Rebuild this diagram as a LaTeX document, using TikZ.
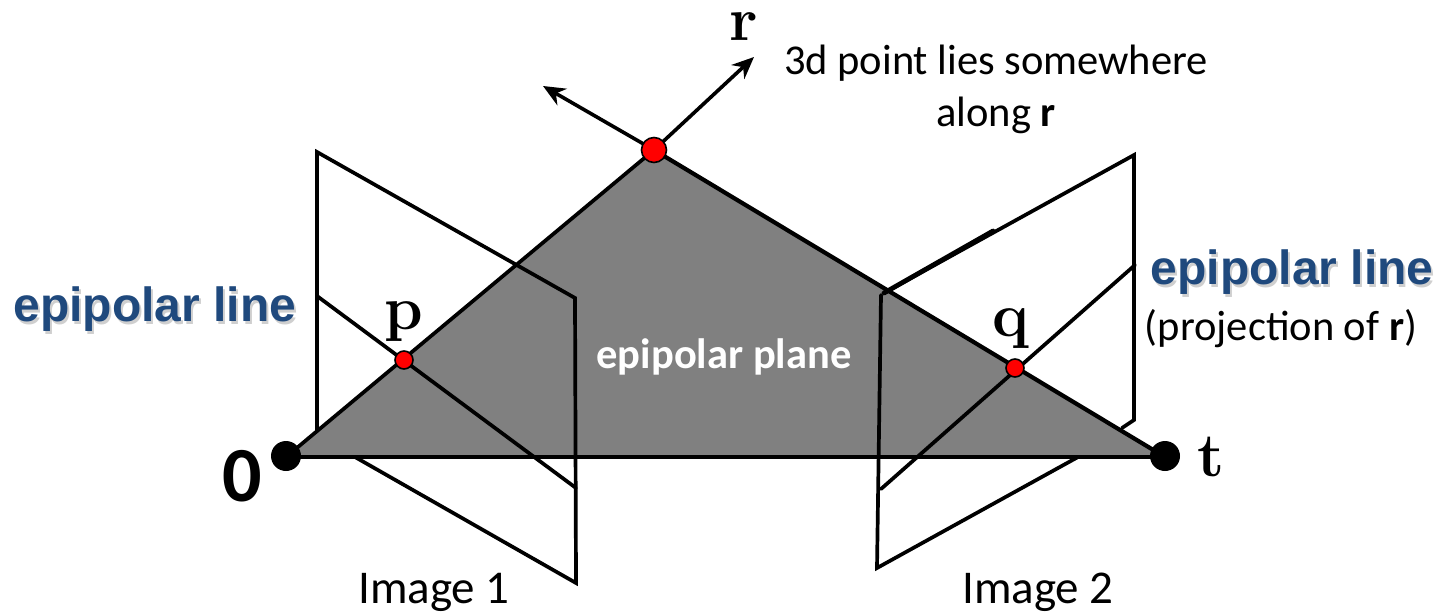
\documentclass[tikz,border=0pt]{standalone}
\usepackage{fontspec}
\usetikzlibrary{arrows.meta}
\newfontfamily\calib{Carlito}
\newfontfamily\arialb{Liberation Sans}[BoldFont={Liberation Sans Bold}]
\definecolor{epiblue}{HTML}{1F497D}
\definecolor{planegray}{HTML}{808080}
\definecolor{epishade}{HTML}{CFCFCF}
\newcommand{\shadowtext}[1]{\rlap{\hspace{2pt}\raisebox{-3pt}{\textcolor{epishade}{#1}}}#1}
\tikzset{
  wire/.style={draw=black,line width=3.7pt,line cap=round,line join=miter},
  thin wire/.style={draw=black,line width=3.2pt,line cap=round},
  ray/.style={draw=black,line width=3.6pt,-{Stealth[length=22pt,width=19pt]}},
  redpt/.style={circle,draw=black,fill=red,line width=1.6pt,inner sep=0pt,minimum size=#1},
  blackpt/.style={circle,fill=black,inner sep=0pt,minimum size=30pt},
  lbl/.style={font=\calib\fontsize{42.5}{52}\selectfont,text=black,inner sep=0pt,align=center},
  imglbl/.style={font=\calib\fontsize{47}{52}\selectfont,text=black,inner sep=0pt},
  mathlbl/.style={font=\bfseries\fontsize{62}{66}\selectfont,text=black,inner sep=0pt},
  epi/.style={font=\arialb\bfseries\fontsize{48}{52}\selectfont,text=epiblue,inner sep=0pt}
}
\begin{document}
\begin{tikzpicture}[x=1pt,y=-1pt]
\useasboundingbox (0,0) rectangle (1443,613);
% corners
\coordinate (o) at (286,457);
\coordinate (tp) at (1165,457);
\coordinate (a) at (654,150);
\coordinate (aL) at (543,86);
\coordinate (aR) at (754,57);
\coordinate (L1) at (317,152);
\coordinate (L2) at (575,298);
\coordinate (L3) at (576,583);
\coordinate (L4) at (355,457);
\coordinate (L5) at (317,430);
\coordinate (Ea) at (317,296);
\coordinate (Eb) at (576,488);
\coordinate (R1) at (1134,155);
\coordinate (R2) at (884,293);
\coordinate (Rt) at (993,231);
\coordinate (R3) at (881,295);
\coordinate (R4) at (877,568);
\coordinate (R5) at (1078,457);
\coordinate (R6) at (1134,420);
\coordinate (R7) at (1122,428);
\coordinate (Fa) at (1135,265);
\coordinate (Fb) at (881,489);
% plane
\fill[planegray] (o) -- (a) -- (tp) -- cycle;
% image 1
\draw[wire] (L5) -- (L1) -- (L2) -- (L3) -- (L4);
\draw[wire] (Ea) -- (Eb);
% image 2
\draw[wire] (R2) -- (R1) -- (R6) -- (R7);
\draw[wire,line width=4.8pt] (R2) -- (Rt);
\draw[wire] (R3) -- (R4) -- (R5);
\draw[wire] (Fa) -- (Fb);
% triangle edges
\draw[thin wire] (o) -- (tp);
\draw[wire] (o) -- (a);
\draw[wire,line width=4.2pt] (a) -- (tp);
% rays
\draw[ray] (a) -- (aL);
\draw[ray] (a) -- (aR);
% points
\node[blackpt] (n0) at (286,456) {};
\node[blackpt] (nt) at (1165,456) {};
\node[redpt=25pt] (nr) at (654,150) {};
\node[redpt=18pt] (np) at (404,360) {};
\node[redpt=18pt] (nq) at (1015,368) {};
% labels
\node[mathlbl] (lr) at (744,27) {r};
\node[mathlbl] (lp) at (404,322) {p};
\node[mathlbl] (lq) at (1011,329) {q};
\node[mathlbl] (lt) at (1211,457) {t};
\node[font=\calib\bfseries\fontsize{78}{78}\selectfont,inner sep=0pt] (l0) at (242,476) {0};
\node[lbl,anchor=center] (l3d) at (996,89) {3d point lies somewhere\\along \textbf{r}};
\node[lbl,text=white,font=\calib\bfseries\fontsize{42.5}{48}\selectfont] (lplane) at (724,357) {epipolar plane};
\node[lbl] (lproj) at (1281,329) {(projection of \textbf{r})};
\node[imglbl] (li1) at (434,592) {Image 1};
\node[imglbl] (li2) at (1038,592) {Image 2};
\node[epi] (e1) at (155,311) {\shadowtext{epipolar line}};
\node[epi] (e2) at (1292,274) {\shadowtext{epipolar line}};
\end{tikzpicture}
\end{document}
